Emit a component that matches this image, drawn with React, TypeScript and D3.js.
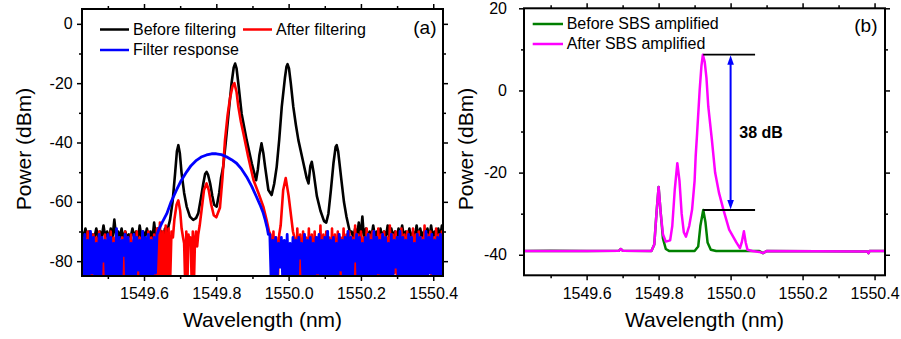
import { useEffect, useRef } from 'react';
import * as d3 from 'd3';

type Pt = [number, number];

const FONT = "'Liberation Sans', Arial, Helvetica, sans-serif";

// shared wavelength ticks (nm)
const wlMajor = [1549.6, 1549.8, 1550.0, 1550.2, 1550.4];
const wlMinor = [1549.5, 1549.7, 1549.9, 1550.1, 1550.3];

// panel (a) power ticks (dBm)
const powerMajorA = [0, -20, -40, -60, -80];
const powerMinorA = [-10, -30, -50, -70];
// panel (b) power ticks (dBm)
const powerMajorB = [20, 0, -20, -40];
const powerMinorB = [10, -10, -30];

// ---------- panel (a): Before filtering (black) ----------
// noisy floor, sampled every 0.005 nm
const beforeNoiseLeft = [-70, -72, -69, -72, -70, -73, -71, -72, -69, -72, -70, -72, -68, -72, -70, -73, -69, -72, -66, -72, -70, -72, -69, -73, -70, -72, -71, -72, -69, -72, -70, -73, -68, -72, -70, -72, -69, -72, -70, -73, -67, -72, -69, -72, -70, -72, -69, -72, -68];
const beforePeaks: Pt[] = [
  [1549.672, -66.1], [1549.679, -60], [1549.686, -50.4], [1549.691, -43], [1549.695, -40.9], [1549.699, -43.5], [1549.704, -50.4],
  [1549.711, -57], [1549.718, -61.6], [1549.727, -65], [1549.736, -66.1], [1549.744, -65.5], [1549.75, -63.9], [1549.757, -59],
  [1549.764, -53.8], [1549.769, -50.6], [1549.773, -49.9], [1549.777, -50.8], [1549.783, -53.8], [1549.789, -58], [1549.794, -61],
  [1549.801, -61.6], [1549.808, -57], [1549.813, -52], [1549.819, -48.2], [1549.826, -40], [1549.833, -31.4], [1549.842, -20.2],
  [1549.848, -14.8], [1549.852, -13.4], [1549.856, -15], [1549.861, -20.2], [1549.87, -30.3], [1549.884, -39.2], [1549.898, -47],
  [1549.91, -52.7], [1549.915, -49], [1549.919, -44.4], [1549.925, -40.3], [1549.93, -43.5], [1549.935, -48.2], [1549.944, -56],
  [1549.953, -57.7], [1549.96, -54], [1549.967, -48.2], [1549.974, -39], [1549.981, -28], [1549.99, -18], [1549.994, -14.5],
  [1549.997, -13.6], [1550.001, -15], [1550.006, -20], [1550.013, -28], [1550.02, -34], [1550.027, -39.2], [1550.041, -47],
  [1550.05, -52], [1550.055, -53.8], [1550.06, -48], [1550.064, -46.5], [1550.069, -50], [1550.078, -58], [1550.088, -63],
  [1550.098, -66.5], [1550.104, -67], [1550.11, -64], [1550.117, -56], [1550.124, -47], [1550.13, -41.5], [1550.133, -40.9],
  [1550.137, -43], [1550.146, -52.7], [1550.153, -60], [1550.16, -65], [1550.169, -70],
];
const beforeNoiseRight = [-70, -72, -69, -72, -67, -72, -65, -73, -69, -72, -70, -72, -68, -72, -70, -73, -69, -72, -70, -72, -68, -72, -69, -72, -70, -73, -69, -72, -68, -72, -70, -72, -69, -73, -70, -72, -68, -72, -69, -72, -70, -72, -69, -73, -68, -72, -70, -72, -69, -72, -68, -72];

// ---------- panel (a): After filtering (red) ----------
// sampled every 0.004 nm
const afterNoiseLeft = [-71, -88, -72, -86, -70, -88, -73, -88, -71, -84, -72, -88, -70, -87, -73, -88, -71, -88, -72, -85, -70, -88, -72, -88, -71, -86, -73, -88, -72, -88, -70, -84, -72, -88, -71, -88, -73, -86, -70, -88, -72, -88, -71, -85, -73, -88, -70, -88, -72, -87, -71, -88, -69, -88, -67, -88, -70, -88, -68, -88, -69, -88, -70, -72];
const afterPeakSide: Pt[] = [[1549.684, -66], [1549.69, -61], [1549.695, -59.5], [1549.7, -63], [1549.704, -69]];
// sampled every 0.003 nm
const afterNoiseMid = [-72, -74, -88, -70, -88, -71, -74, -72, -88, -70, -88, -73, -70, -75, -71];
const afterPeakMain: Pt[] = [
  [1549.754, -68], [1549.76, -62], [1549.766, -56], [1549.773, -53.8], [1549.779, -56], [1549.786, -61], [1549.793, -64.5],
  [1549.8, -65.2], [1549.81, -62], [1549.817, -52], [1549.824, -39.2], [1549.831, -31], [1549.838, -25], [1549.845, -21],
  [1549.85, -20], [1549.856, -23], [1549.861, -28], [1549.868, -33], [1549.875, -37], [1549.888, -44.7], [1549.903, -52.7],
  [1549.917, -57.2], [1549.93, -61.6], [1549.94, -66.6], [1549.946, -70],
];
// sampled every 0.004 nm
const afterNoiseRight1 = [-71, -88, -70, -87, -72, -88, -71];
const afterPeakRight: Pt[] = [[1549.978, -68], [1549.985, -56], [1549.992, -52], [1550.0, -58], [1550.008, -66], [1550.012, -70]];
const afterNoiseRight2 = [
  -72, -88, -69, -86, -71, -88, -70, -88, -72, -85, -69, -88, -71, -88, -70, -86, -72, -88, -68, -88,
  -71, -84, -70, -88, -72, -88, -69, -87, -71, -88, -70, -88, -72, -85, -69, -88, -71, -88, -70, -86,
  -72, -88, -68, -88, -71, -84, -70, -88, -72, -88, -69, -87, -71, -88, -70, -88, -72, -85, -69, -88,
  -71, -88, -70, -86, -72, -88, -68, -88, -71, -84, -70, -88, -72, -88, -69, -87, -71, -88, -70, -88,
  -72, -85, -69, -88, -71, -88, -70, -86, -72, -88, -68, -88, -71, -84, -70, -88, -72, -88, -69, -87,
  -71, -88, -70, -72,
];

// ---------- panel (a): Filter response (blue) ----------
// sampled every 0.004 nm
const filterNoiseLeft = [-72, -88, -71, -86, -73, -88, -70, -84, -72, -88, -74, -87, -71, -88, -72, -80, -73, -88, -71, -86, -72, -88, -74, -88, -69, -85, -72, -88, -73, -78, -71, -88, -72, -86, -74, -88, -71, -88, -72, -83, -73, -88, -70, -87, -72, -88, -71, -86, -73, -88, -72, -84, -71];
const filterCurve: Pt[] = [
  [1549.642, -69], [1549.65, -67], [1549.663, -64], [1549.675, -60], [1549.69, -56], [1549.703, -52.8], [1549.718, -49.9],
  [1549.73, -47.8], [1549.745, -46], [1549.758, -44.9], [1549.773, -44.2], [1549.787, -43.8], [1549.8, -43.8], [1549.814, -44.1],
  [1549.828, -44.8], [1549.842, -45.8], [1549.856, -47], [1549.87, -49], [1549.884, -51.6], [1549.898, -54.8], [1549.911, -58.3],
  [1549.921, -61], [1549.929, -63.5], [1549.935, -66], [1549.941, -69], [1549.944, -71],
];
const filterNoiseRight = [
  -71, -88, -73, -86, -72, -88, -74, -82, -72, -88, -73, -88, -71, -87, -74, -88, -72, -85, -73, -88,
  -72, -79, -74, -88, -71, -88, -73, -86, -72, -88, -74, -88, -72, -84, -71, -88, -73, -88, -72, -87,
  -70, -88, -73, -85, -72, -88, -74, -88, -71, -83, -73, -88, -72, -88, -70, -86, -72, -88, -73, -80,
  -71, -88, -72, -87, -74, -88, -72, -88, -71, -85, -73, -88, -70, -88, -72, -84, -73, -88, -71, -88,
  -72, -86, -74, -88, -71, -88, -73, -82, -72, -88, -70, -88, -72, -87, -73, -88, -71, -88, -72, -85,
  -74, -88, -71, -88, -72, -86, -73, -88, -70, -88, -72, -84, -71, -88, -73, -88, -72, -87, -71, -88,
  -72,
];

// ---------- panel (b) ----------
const beforeSBS: Pt[] = [
  [1549.426, -39.1], [1549.5, -39.0], [1549.6, -39.1], [1549.69, -39.0], [1549.695, -38.6], [1549.7, -39.0], [1549.78, -39.1],
  [1549.788, -37.5], [1549.794, -30], [1549.8, -23.5], [1549.806, -30], [1549.812, -36], [1549.82, -38.6], [1549.83, -39.1],
  [1549.9, -39.1], [1549.91, -38], [1549.916, -33], [1549.924, -29.1], [1549.93, -32], [1549.936, -37], [1549.945, -38.8],
  [1549.96, -39.1], [1550.08, -39.1], [1550.09, -39.6], [1550.1, -39.1], [1550.38, -39.2], [1550.383, -39.6], [1550.386, -39.1],
  [1550.429, -39.1],
];
const afterSBS: Pt[] = [
  [1549.426, -39.1], [1549.6, -39.1], [1549.69, -39.0], [1549.695, -38.6], [1549.7, -39.0], [1549.78, -39.1], [1549.788, -37.5],
  [1549.794, -30], [1549.8, -23.5], [1549.806, -30], [1549.812, -35], [1549.82, -36.8], [1549.832, -36.5], [1549.838, -33],
  [1549.845, -24], [1549.852, -17.7], [1549.858, -22], [1549.864, -30], [1549.87, -34.5], [1549.876, -35.6], [1549.885, -33],
  [1549.893, -29], [1549.9, -22], [1549.903, -16], [1549.907, -10.4], [1549.914, 0], [1549.919, 6], [1549.923, 8.7],
  [1549.928, 7], [1549.933, 3], [1549.938, -3.9], [1549.948, -12], [1549.957, -20], [1549.968, -25], [1549.98, -29],
  [1549.996, -33.9], [1550.007, -35.6], [1550.016, -37], [1550.026, -38.4], [1550.031, -37], [1550.037, -34.3], [1550.042, -37],
  [1550.047, -38.8], [1550.06, -39.1], [1550.08, -39.3], [1550.09, -39.6], [1550.1, -39.1], [1550.38, -39.2], [1550.383, -39.6],
  [1550.386, -39.1], [1550.429, -39.1],
];
// gain annotation
const gainTop = 8.7;
const gainBottom = -29.1;
const gainFrom = 1549.924;
const gainTo = 1550.068;
const gainArrowAt = 1550.0;
const gainLabel = '38 dB';

function onGrid(start: number, step: number, values: number[]): Pt[] {
  return values.map((v, i) => [start + i * step, v] as Pt);
}

const beforeTrace: Pt[] = [
  ...onGrid(1549.428, 0.005, beforeNoiseLeft),
  ...beforePeaks,
  ...onGrid(1550.174, 0.005, beforeNoiseRight),
];
const afterTrace: Pt[] = [
  ...onGrid(1549.428, 0.004, afterNoiseLeft),
  ...afterPeakSide,
  ...onGrid(1549.708, 0.003, afterNoiseMid),
  ...afterPeakMain,
  ...onGrid(1549.95, 0.004, afterNoiseRight1),
  ...afterPeakRight,
  ...onGrid(1550.016, 0.004, afterNoiseRight2),
];
const filterTrace: Pt[] = [
  ...onGrid(1549.428, 0.004, filterNoiseLeft),
  ...filterCurve,
  ...onGrid(1549.948, 0.004, filterNoiseRight),
];

type Scale = d3.ScaleLinear<number, number>;

function drawFrame(
  svg: d3.Selection<SVGSVGElement, unknown, null, undefined>,
  x: Scale, y: Scale,
  yMajor: number[], yMinor: number[], yPad: number,
) {
  const [x0, x1] = x.range();
  const [y0, y1] = y.range();
  const addAxis = (axis: d3.Axis<d3.NumberValue>, tx: number, ty: number) => {
    const g = svg.append('g')
      .attr('transform', `translate(${tx},${ty})`)
      .call(axis);
    g.attr('font-family', FONT).attr('font-size', 16);
    g.select('.domain').remove();
    g.selectAll('line').attr('stroke', '#000').attr('stroke-width', 1.5);
    g.selectAll('text').attr('fill', '#000');
  };
  const none = () => '';
  addAxis(d3.axisBottom(x).tickValues(wlMinor).tickSize(3).tickFormat(none), 0, y0);
  addAxis(d3.axisBottom(x).tickValues(wlMajor).tickSize(5).tickPadding(7).tickFormat(d3.format('.1f')), 0, y0);
  addAxis(d3.axisTop(x).tickValues(wlMinor).tickSize(3).tickFormat(none), 0, y1);
  addAxis(d3.axisTop(x).tickValues(wlMajor).tickSize(5).tickFormat(none), 0, y1);
  addAxis(d3.axisLeft(y).tickValues(yMinor).tickSize(3).tickFormat(none), x0, 0);
  addAxis(d3.axisLeft(y).tickValues(yMajor).tickSize(5).tickPadding(yPad).tickFormat((d) => String(d)), x0, 0);
  addAxis(d3.axisRight(y).tickValues(yMinor).tickSize(3).tickFormat(none), x1, 0);
  addAxis(d3.axisRight(y).tickValues(yMajor).tickSize(5).tickFormat(none), x1, 0);

  svg.append('rect')
    .attr('x', x0).attr('y', y1)
    .attr('width', x1 - x0).attr('height', y0 - y1)
    .attr('fill', 'none').attr('stroke', '#000').attr('stroke-width', 2);

  svg.append('text')
    .attr('x', (x0 + x1) / 2).attr('y', 327)
    .attr('text-anchor', 'middle')
    .attr('font-family', FONT).attr('font-size', 21)
    .text('Wavelength (nm)');
}

function addClip(svg: d3.Selection<SVGSVGElement, unknown, null, undefined>, id: string, x: Scale, y: Scale) {
  const [x0, x1] = x.range();
  const [y0, y1] = y.range();
  svg.append('clipPath').attr('id', id)
    .append('rect').attr('x', x0).attr('y', y1).attr('width', x1 - x0).attr('height', y0 - y1);
}

export default function App() {
  const svgRef = useRef<SVGSVGElement | null>(null);

  useEffect(() => {
    if (!svgRef.current) return;
    const svg = d3.select(svgRef.current);
    svg.selectAll('*').remove();

    // --- PANEL (a) ---
    const xA = d3.scaleLinear().domain([1549.4285, 1550.427]).range([82, 443]);
    const yA = d3.scaleLinear().domain([-85, 5]).range([276, 9]);
    addClip(svg, 'clipA', xA, yA);
    const lineA = d3.line<Pt>().x((d) => xA(d[0])).y((d) => yA(d[1]));
    const gA = svg.append('g').attr('clip-path', 'url(#clipA)');
    gA.append('path').attr('d', lineA(beforeTrace)).attr('fill', 'none').attr('stroke', '#000').attr('stroke-width', 2.6).attr('stroke-linejoin', 'round');
    gA.append('path').attr('d', lineA(afterTrace)).attr('fill', 'none').attr('stroke', '#ff0000').attr('stroke-width', 2.6).attr('stroke-linejoin', 'round');
    gA.append('path').attr('d', lineA(filterTrace)).attr('fill', 'none').attr('stroke', '#0000ff').attr('stroke-width', 2.8).attr('stroke-linejoin', 'round');
    drawFrame(svg, xA, yA, powerMajorA, powerMinorA, 4.3);

    svg.append('text')
      .attr('transform', 'translate(31,149) rotate(-90)')
      .attr('text-anchor', 'middle')
      .attr('font-family', FONT).attr('font-size', 21)
      .text('Power (dBm)');

    const legendA = [
      { label: 'Before filtering', color: '#000', x: 100, y: 29.5 },
      { label: 'After filtering', color: '#ff0000', x: 243, y: 29.5 },
      { label: 'Filter response', color: '#0000ff', x: 100, y: 50 },
    ];
    legendA.forEach((l) => {
      svg.append('line').attr('x1', l.x).attr('x2', l.x + 29).attr('y1', l.y).attr('y2', l.y)
        .attr('stroke', l.color).attr('stroke-width', 2.5);
      svg.append('text').attr('x', l.x + 33).attr('y', l.y + 5.3)
        .attr('font-family', FONT).attr('font-size', 16).text(l.label);
    });
    svg.append('text').attr('x', 436.5).attr('y', 33.5).attr('text-anchor', 'end')
      .attr('font-family', FONT).attr('font-size', 19).text('(a)');

    // --- PANEL (b) ---
    const xB = d3.scaleLinear().domain([1549.426, 1550.429]).range([524, 885]);
    const yB = d3.scaleLinear().domain([-45, 20]).range([275.3, 8.3]);
    addClip(svg, 'clipB', xB, yB);
    const lineB = d3.line<Pt>().x((d) => xB(d[0])).y((d) => yB(d[1]));
    const gB = svg.append('g').attr('clip-path', 'url(#clipB)');
    gB.append('path').attr('d', lineB(beforeSBS)).attr('fill', 'none').attr('stroke', '#008000').attr('stroke-width', 2.5).attr('stroke-linejoin', 'round');
    gB.append('path').attr('d', lineB(afterSBS)).attr('fill', 'none').attr('stroke', '#ff00ff').attr('stroke-width', 2.5).attr('stroke-linejoin', 'round');

    // gain annotation
    [gainTop, gainBottom].forEach((p) => {
      svg.append('line').attr('x1', xB(gainFrom)).attr('x2', xB(gainTo)).attr('y1', yB(p)).attr('y2', yB(p))
        .attr('stroke', '#000').attr('stroke-width', 1.8);
    });
    const ax = xB(gainArrowAt);
    const yTop = yB(gainTop);
    const yBot = yB(gainBottom);
    svg.append('line').attr('x1', ax).attr('x2', ax).attr('y1', yTop + 8).attr('y2', yBot - 8)
      .attr('stroke', '#0000ff').attr('stroke-width', 2);
    svg.append('path').attr('d', `M${ax},${yTop + 0.5}L${ax - 3.3},${yTop + 10}L${ax + 3.3},${yTop + 10}Z`).attr('fill', '#0000ff');
    svg.append('path').attr('d', `M${ax},${yBot - 0.5}L${ax - 3.3},${yBot - 10}L${ax + 3.3},${yBot - 10}Z`).attr('fill', '#0000ff');
    svg.append('text').attr('x', 739.3).attr('y', 138.3)
      .attr('font-family', FONT).attr('font-size', 16).attr('font-weight', 'bold').text(gainLabel);

    drawFrame(svg, xB, yB, powerMajorB, powerMinorB, 12);

    svg.append('text')
      .attr('transform', 'translate(473,149) rotate(-90)')
      .attr('text-anchor', 'middle')
      .attr('font-family', FONT).attr('font-size', 21)
      .text('Power (dBm)');

    const legendB = [
      { label: 'Before SBS amplified', color: '#008000', y: 24 },
      { label: 'After SBS amplified', color: '#ff00ff', y: 44 },
    ];
    legendB.forEach((l) => {
      svg.append('line').attr('x1', 532.7).attr('x2', 563).attr('y1', l.y).attr('y2', l.y)
        .attr('stroke', l.color).attr('stroke-width', 2.5);
      svg.append('text').attr('x', 566.7).attr('y', l.y + 5.3)
        .attr('font-family', FONT).attr('font-size', 16).text(l.label);
    });
    svg.append('text').attr('x', 877.5).attr('y', 32).attr('text-anchor', 'end')
      .attr('font-family', FONT).attr('font-size', 19).text('(b)');
  }, []);

  return (
    <svg
      ref={svgRef}
      width={901}
      height={339}
      style={{ position: 'absolute', left: 0, top: 0, background: '#fff' }}
    />
  );
}
